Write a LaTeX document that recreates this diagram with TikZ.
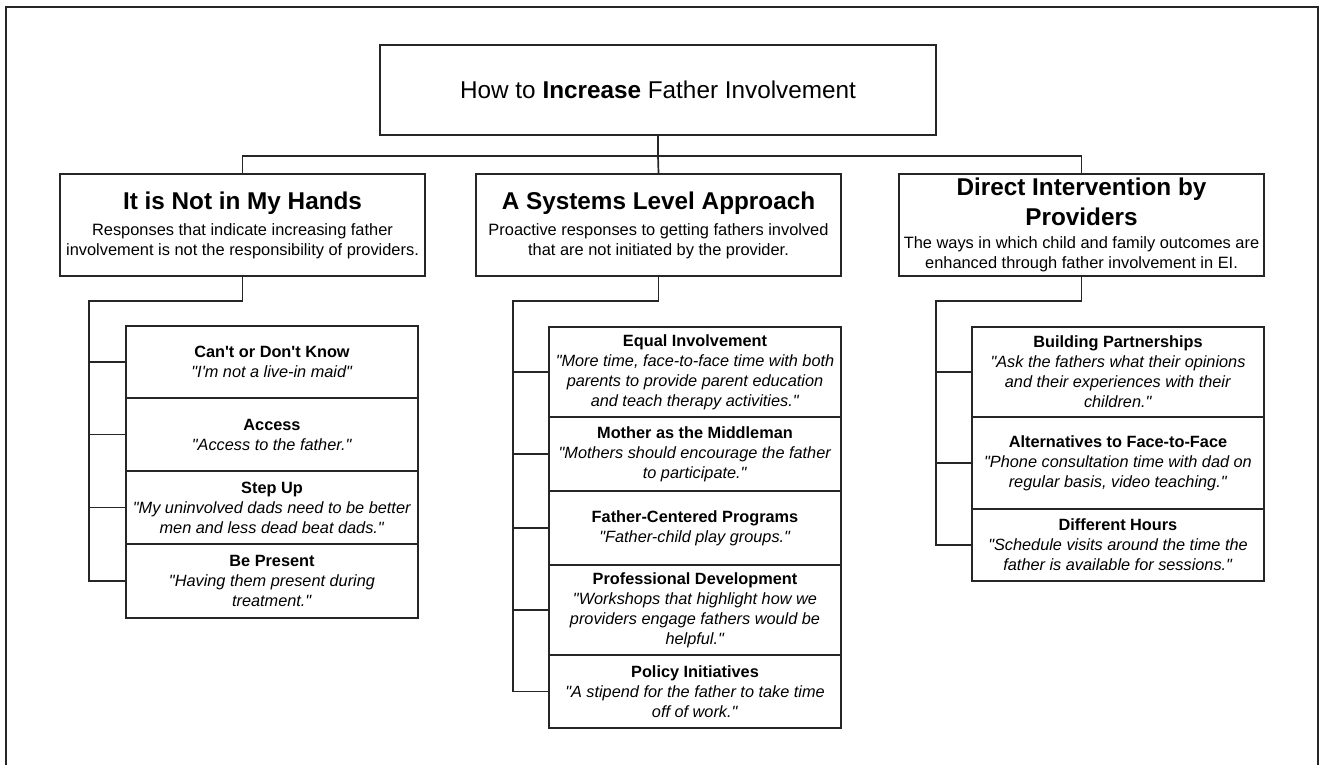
\documentclass[tikz,border=0pt]{standalone}
\usepackage{fontspec}
\setmainfont{Liberation Sans}
\usetikzlibrary{positioning}

\newcommand{\cathead}{\fontsize{24.3}{29}\selectfont\bfseries}
\newcommand{\catdesc}{\fontsize{16.4}{19.5}\selectfont}
\newcommand{\q}{\textquotedbl}
\newcommand{\ap}{\textquotesingle}

\begin{document}
\begin{tikzpicture}[x=1pt, y=-1pt,
  topbox/.style={draw=black!85, line width=1.7pt, minimum width=556pt,
    minimum height=90pt, align=center, font=\fontsize{24.3}{28}\selectfont},
  catbox/.style={draw=black!85, line width=1.7pt, minimum width=365pt,
    minimum height=102pt, align=center, inner sep=2pt, font=\catdesc},
  subbox/.style={draw=black!85, line width=1.7pt, minimum width=292pt,
    align=center, inner sep=2pt, font=\fontsize{16.3}{20}\selectfont},
  link/.style={draw=black!85, line width=1.7pt}]
\useasboundingbox (0,0) rectangle (1319,764);
\draw[link] (6,770) -- (6,7) -- (1318,7) -- (1318,770);

% title and categories
\node[topbox] (title) at (658,90) {How to \textbf{Increase} Father Involvement};
\node[catbox] (hands) at (242.5,225)
  {{\cathead It is Not in My Hands}\\[7pt]
   Responses that indicate increasing father\\
   involvement is not the responsibility of providers.};
\node[catbox] (system) at (658.5,225)
  {{\cathead A Systems Level Approach}\\[7pt]
   Proactive responses to getting fathers involved\\
   that are not initiated by the provider.};
\node[catbox] (direct) at (1081.5,225)
  {{\cathead Direct Intervention by}\\[6pt]
   {\cathead Providers}\\[4pt]
   The ways in which child and family outcomes are\\
   enhanced through father involvement in EI.};

\coordinate (hub) at (658,156);
\draw[link] (title.south) -- (hub);
\draw[link] (hands.north) |- (hub) -| (direct.north);
\draw[link] (hub) -- (system.north);

% not in my hands
\node[subbox, minimum height=72pt] (cant) at (272,362)
  {\textbf{Can\ap t or Don\ap t Know}\\\textit{\q I\ap m not a live-in maid\q}};
\node[subbox, minimum height=73pt] (access) at (272,434.5)
  {\textbf{Access}\\\textit{\q Access to the father.\q}};
\node[subbox, minimum height=73pt] (stepup) at (272,507.5)
  {\textbf{Step Up}\\\textit{\q My uninvolved dads need to be better}\\\textit{men and less dead beat dads.\q}};
\node[subbox, minimum height=74pt] (present) at (272,581)
  {\textbf{Be Present}\\\textit{\q Having them present during}\\\textit{treatment.\q}};

% systems level
\node[subbox, minimum height=90pt] (equal) at (695,372)
  {\textbf{Equal Involvement}\\\textit{\q More time, face-to-face time with both}\\\textit{parents to provide parent education}\\\textit{and teach therapy activities.\q}};
\node[subbox, minimum height=74pt] (mother) at (695,454)
  {\textbf{Mother as the Middleman}\\\textit{\q Mothers should encourage the father}\\\textit{to participate.\q}};
\node[subbox, minimum height=74pt] (programs) at (695,528)
  {\textbf{Father-Centered Programs}\\\textit{\q Father-child play groups.\q}};
\node[subbox, minimum height=90pt] (profdev) at (695,610)
  {\textbf{Professional Development}\\\textit{\q Workshops that highlight how we}\\\textit{providers engage fathers would be}\\\textit{helpful.\q}};
\node[subbox, minimum height=73pt] (policy) at (695,691.5)
  {\textbf{Policy Initiatives}\\\textit{\q A stipend for the father to take time}\\\textit{off of work.\q}};

% direct intervention
\node[subbox, minimum height=90pt] (partner) at (1118,372)
  {\textbf{Building Partnerships}\\\textit{\q Ask the fathers what their opinions}\\\textit{and their experiences with their}\\\textit{children.\q}};
\node[subbox, minimum height=92pt] (remote) at (1118,463)
  {\textbf{Alternatives to Face-to-Face}\\\textit{\q Phone consultation time with dad on}\\\textit{regular basis, video teaching.\q}};
\node[subbox, minimum height=72pt] (hours) at (1118,545)
  {\textbf{Different Hours}\\\textit{\q Schedule visits around the time the}\\\textit{father is available for sessions.\q}};

% trunks and branches
\coordinate (t1) at (89,301);
\coordinate (t2) at (513,301);
\coordinate (t3) at (936,301);
\draw[link] (hands.south) |- (t1) |- (present.west);
\draw[link] (system.south) |- (t2) |- (policy.west);
\draw[link] (direct.south) |- (t3) |- (hours.west);
\foreach \b in {cant, access, stepup}
  \draw[link] (t1 |- \b.west) -- (\b.west);
\foreach \b in {equal, mother, programs, profdev}
  \draw[link] (t2 |- \b.west) -- (\b.west);
\foreach \b in {partner, remote}
  \draw[link] (t3 |- \b.west) -- (\b.west);
\end{tikzpicture}
\end{document}
